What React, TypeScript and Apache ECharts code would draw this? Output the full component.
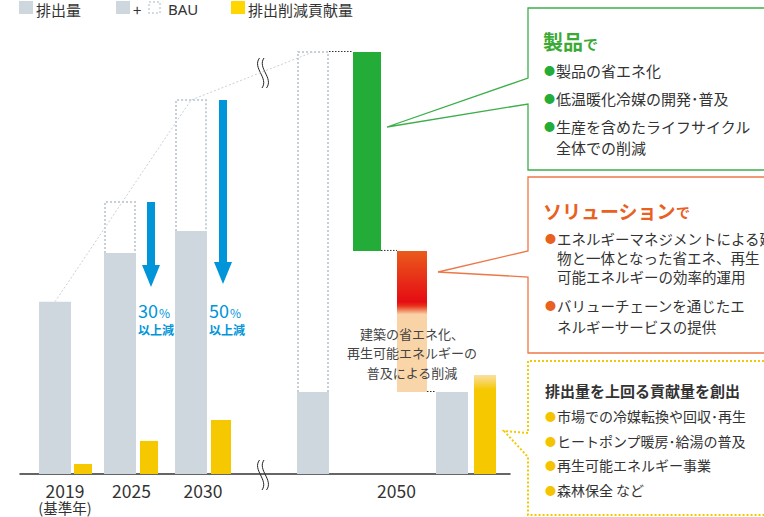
import React, { useEffect, useRef } from 'react';
import * as echarts from 'echarts';

// ---------- data (2019 emissions = 100) ----------
const years = ['2019', '2025', '2030', '2050'];
const baseYearNote = '(基準年)';
const emissions = [100, 128.3, 141.1, 47.6];      // 排出量
const bau = [100, 157.9, 217.1, 245];            // BAU
const contribution = [5.8, 19.2, 31.4, 57.5];    // 排出削減貢献量
const productReduction = [245, 129.5];          // 製品で (from, to)
const solutionReduction = [129.5, 47.6];         // ソリューションで (from, to)
const arrowTips = [108.6, 110.3];                // 2025, 2030 arrows end
const reductionRates = ['30', '50'];

const legendItems = ['排出量', 'BAU', '排出削減貢献量'];
const productTexts = ['製品の省エネ化', '低温暖化冷媒の開発･普及', '生産を含めたライフサイクル', '全体での削減'];
const solutionTexts = ['エネルギーマネジメントによる建', '物と一体となった省エネ、再生', '可能エネルギーの効率的運用', 'バリューチェーンを通じたエ', 'ネルギーサービスの提供'];
const surplusTexts = ['市場での冷媒転換や回収･再生', 'ヒートポンプ暖房･給湯の普及', '再生可能エネルギー事業', '森林保全 など'];
const buildingTexts = ['建築の省エネ化、', '再生可能エネルギーの', '普及による削減'];

// ---------- layout (x axis units) ----------
const X_MAX = 490;
const Y_MAX = 245;
const GRAY_W = 32;
const grayX = [35, 100, 171, 293];
const gray2050RightX = 432;
const yellowX = [63, 129, 201, 465];
const yellowW = [18, 18, 20, 22];
const greenX = 347, GREEN_W = 28;
const orangeX = 392, ORANGE_W = 30;
const arrowX = [131, 203];
const labelX = [45, 111.5, 183, 376.5];

const FONT = '"Noto Sans CJK JP", "Noto Sans", sans-serif';
const GRAY = '#CDD7DD';
const BAU_C = '#C6D0D8';
const YELLOW = '#F5C800';
const GREEN = '#23AC38';
const BLUE = '#0095D9';
const TEXT = '#333333';

function rectItem(api: any, fill: any) {
  const x = api.value(0), y0 = api.value(1), y1 = api.value(2), w = api.value(3);
  const p0 = api.coord([x, y0]);
  const p1 = api.coord([x, y1]);
  const pw = api.size([w, 0])[0];
  return {
    type: 'rect',
    shape: { x: p0[0] - pw / 2, y: Math.min(p0[1], p1[1]), width: pw, height: Math.abs(p1[1] - p0[1]) },
    style: { fill },
  };
}

function buildOption() {
  const grayData = grayX.map((x, i) => [x, 0, emissions[i], GRAY_W]);
  grayData.push([gray2050RightX, 0, emissions[3], GRAY_W]);
  const yellowData = yellowX.map((x, i) => [x, 0, contribution[i], yellowW[i]]);
  const bauData = [1, 2, 3].map((i) => [grayX[i], emissions[i], bau[i], GRAY_W]);
  const trend = [[grayX[0], emissions[0]], [grayX[2], bau[2]], [grayX[3], bau[3]]];
  const connectors = [
    [grayX[3] + GRAY_W / 2, greenX - GREEN_W / 2, productReduction[0]],
    [greenX + GREEN_W / 2, orangeX - ORANGE_W / 2, productReduction[1]],
    [orangeX + ORANGE_W / 2, gray2050RightX - GRAY_W / 2, solutionReduction[1]],
  ];
  const arrows = arrowX.map((x, i) => [x, bau[i + 1], arrowTips[i]]);

  const orangeGrad = new echarts.graphic.LinearGradient(0, 0, 0, 1, [
    { offset: 0, color: '#EA5B1B' },
    { offset: 0.36, color: '#E50C14' },
    { offset: 0.39, color: '#E8331A' },
    { offset: 0.45, color: '#F9D3A6' },
    { offset: 1, color: '#F9D6A9' },
  ]);
  const yellowGrad = new echarts.graphic.LinearGradient(0, 0, 0, 1, [
    { offset: 0, color: '#FAE0A8' },
    { offset: 0.15, color: YELLOW },
    { offset: 1, color: YELLOW },
  ]);

  const txt = (text: string, x: number, y: number, extra: any = {}) => ({
    type: 'text', z: 60,
    style: { text, x, y, fontSize: 15, fontFamily: FONT, fill: TEXT, verticalAlign: 'middle', ...extra },
  });
  const bullet = (text: string, x: number, y: number, color: string, size = 15) => ({
    type: 'text', z: 60,
    style: {
      text: `{d|●}{t|${text}}`, x, y, verticalAlign: 'middle', fontFamily: FONT,
      rich: {
        d: { fontSize: 11, fill: color, fontFamily: FONT, padding: [0, 1, 0, 0] },
        t: { fontSize: size, fill: TEXT, fontFamily: FONT },
      },
    },
  });
  const breakMark = (cx: number, cy: number) => ({
    type: 'group', z: 70,
    children: [
      { type: 'rect', shape: { x: cx - 2.5, y: cy - 4, width: 5, height: 8 }, style: { fill: '#fff' } },
      { type: 'bezierCurve', shape: { x1: cx - 3.5, y1: cy - 15, cpx1: cx - 11, cpy1: cy - 5, cpx2: cx + 6, cpy2: cy + 5, x2: cx - 1, y2: cy + 15 }, style: { stroke: '#222', lineWidth: 1, fill: null } },
      { type: 'bezierCurve', shape: { x1: cx + 1, y1: cy - 15, cpx1: cx - 6, cpy1: cy - 5, cpx2: cx + 11, cpy2: cy + 5, x2: cx + 3.5, y2: cy + 15 }, style: { stroke: '#222', lineWidth: 1, fill: null } },
    ],
  });
  const box = (pts: number[][], stroke: string, dash?: number[]) => ({
    type: 'polyline', z: 40,
    shape: { points: pts },
    style: { stroke, lineWidth: dash ? 2 : 1.3, fill: null, lineDash: dash || null },
  });

  const graphic: any[] = [
    // legend
    { type: 'rect', z: 60, shape: { x: 19, y: 1, width: 14, height: 13 }, style: { fill: GRAY } },
    txt(legendItems[0], 36, 9),
    { type: 'rect', z: 60, shape: { x: 116, y: 1, width: 14, height: 13 }, style: { fill: GRAY } },
    txt('+', 133, 9),
    { type: 'rect', z: 60, shape: { x: 149, y: 2, width: 11, height: 11 }, style: { fill: null, stroke: BAU_C, lineWidth: 1.5, lineDash: [2, 2] } },
    txt(legendItems[1], 168, 9, { fontFamily: '"Noto Sans", sans-serif' }),
    { type: 'rect', z: 60, shape: { x: 231, y: 1, width: 14, height: 13 }, style: { fill: '#FFD600' } },
    txt(legendItems[2], 248, 9),
    // reduction labels
    ...reductionRates.flatMap((r, i) => {
      const x = [138, 209][i];
      return [
        {
          type: 'text', z: 60,
          style: {
            text: `{n|${r}}{p|%}`, x, y: 310, verticalAlign: 'middle',
            rich: { n: { fontSize: 18, fill: BLUE, fontFamily: FONT }, p: { fontSize: 12, fill: BLUE, fontFamily: FONT, padding: [4, 0, 0, 1] } },
          },
        },
        txt('以上減', x, 329, { fontSize: 12, fill: BLUE, fontWeight: 'bold' }),
      ];
    }),
    // building text
    ...buildingTexts.map((t, i) => txt(t, 412, 333 + i * 19.5, { fontSize: 13, fill: '#444', textAlign: 'center' })),
    // break marks
    breakMark(263, 73),
    breakMark(263, 475),
    // callout boxes
    box([[780, 8], [528, 8], [528, 78], [387, 127], [528, 104], [528, 170], [780, 170]], '#3DAE4A'),
    box([[780, 177], [528, 177], [528, 251], [438, 272], [528, 277], [528, 353], [780, 353]], '#EE7747'),
    box([[780, 361], [528, 361], [528, 433], [504, 431], [528, 457], [528, 515], [780, 515]], YELLOW, [2, 2]),
    // green box texts
    {
      type: 'text', z: 60,
      style: {
        text: '{a|製品}{b|で}', x: 543, y: 41, verticalAlign: 'middle',
        rich: { a: { fontSize: 20, fontWeight: 'bold', fill: '#3AAA35', fontFamily: FONT }, b: { fontSize: 15, fontWeight: 'bold', fill: '#3AAA35', fontFamily: FONT, padding: [4, 0, 0, 0] } },
      },
    },
    bullet(productTexts[0], 544, 70, GREEN),
    bullet(productTexts[1], 544, 98, GREEN),
    bullet(productTexts[2], 544, 126, GREEN),
    txt(productTexts[3], 556, 147),
    // orange box texts
    {
      type: 'text', z: 60,
      style: {
        text: '{a|ソリューション}{b|で}', x: 543, y: 210, verticalAlign: 'middle',
        rich: { a: { fontSize: 19, fontWeight: 'bold', fill: '#E9601F', fontFamily: FONT }, b: { fontSize: 14, fontWeight: 'bold', fill: '#E9601F', fontFamily: FONT, padding: [4, 0, 0, 0] } },
      },
    },
    bullet(solutionTexts[0], 545, 238, '#E9601F', 14.5),
    txt(solutionTexts[1], 557, 257, { fontSize: 14.5 }),
    txt(solutionTexts[2], 557, 276, { fontSize: 14.5 }),
    bullet(solutionTexts[3], 545, 305, '#E9601F', 14.5),
    txt(solutionTexts[4], 557, 326, { fontSize: 14.5 }),
    // yellow box texts
    txt('排出量を上回る貢献量を創出', 545, 390, { fontSize: 15, fontWeight: 'bold' }),
    ...surplusTexts.map((t, i) => bullet(t, 545, 416 + i * 24.7, '#F5C400', 14)),
  ];

  return {
    animation: false,
    backgroundColor: '#ffffff',
    textStyle: { fontFamily: FONT },
    grid: { left: 20, right: 254, top: 52, bottom: 43, containLabel: false, outerBoundsMode: 'none' },
    xAxis: {
      type: 'value', min: 0, max: X_MAX,
      splitLine: { show: false },
      axisTick: { show: false },
      axisLine: { show: true, onZero: false, lineStyle: { color: '#333', width: 1.5 } },
      axisLabel: {
        customValues: labelX,
        formatter: (v: number) => {
          const i = labelX.indexOf(v);
          if (i < 0) return '';
          return i === 0 ? `{y|${years[i]}}\n{s|${baseYearNote}}` : `{y|${years[i]}}`;
        },
        margin: 7,
        rich: {
          y: { fontSize: 17.5, lineHeight: 18, color: TEXT, fontFamily: FONT },
          s: { fontSize: 14.5, lineHeight: 17, color: TEXT, fontFamily: FONT },
        },
      },
    },
    yAxis: { type: 'value', min: 0, max: Y_MAX, show: false, splitLine: { show: false } },
    series: [
      {
        type: 'line', name: 'trend', z: 1, data: trend, symbol: 'none',
        lineStyle: { color: BAU_C, width: 1, type: [2, 2] }, silent: true,
      },
      {
        type: 'custom', name: legendItems[0], z: 3, data: grayData,
        encode: { x: 0, y: [1, 2] },
        renderItem: (p: any, api: any) => rectItem(api, GRAY),
      },
      {
        type: 'custom', name: legendItems[1], z: 4, data: bauData,
        encode: { x: 0, y: [1, 2] },
        renderItem: (p: any, api: any) => {
          const x = api.value(0), y0 = api.value(1), y1 = api.value(2), w = api.value(3);
          const a = api.coord([x, y0]);
          const b = api.coord([x, y1]);
          const hw = api.size([w, 0])[0] / 2 - 1;
          return {
            type: 'polyline',
            shape: { points: [[a[0] - hw, a[1]], [a[0] - hw, b[1]], [a[0] + hw, b[1]], [a[0] + hw, a[1]]] },
            style: { stroke: BAU_C, lineWidth: 2, lineDash: [2, 2], fill: null },
          };
        },
      },
      {
        type: 'custom', name: legendItems[2], z: 3, data: yellowData,
        encode: { x: 0, y: [1, 2] },
        renderItem: (p: any, api: any) => rectItem(api, p.dataIndex === 3 ? yellowGrad : YELLOW),
      },
      {
        type: 'custom', name: 'product', z: 3,
        data: [[greenX, productReduction[1], productReduction[0], GREEN_W]],
        encode: { x: 0, y: [1, 2] },
        renderItem: (p: any, api: any) => rectItem(api, GREEN),
      },
      {
        type: 'custom', name: 'solution', z: 3,
        data: [[orangeX, solutionReduction[1], solutionReduction[0], ORANGE_W]],
        encode: { x: 0, y: [1, 2] },
        renderItem: (p: any, api: any) => rectItem(api, orangeGrad),
      },
      {
        type: 'custom', name: 'connectors', z: 5, data: connectors,
        encode: { x: [0, 1], y: 2 },
        renderItem: (p: any, api: any) => {
          const a = api.coord([api.value(0), api.value(2)]);
          const b = api.coord([api.value(1), api.value(2)]);
          return {
            type: 'line',
            shape: { x1: a[0], y1: a[1] - 0.5, x2: b[0], y2: b[1] - 0.5 },
            style: { stroke: '#333', lineWidth: 1, lineDash: [1.5, 1.5] },
          };
        },
      },
      {
        type: 'custom', name: 'arrows', z: 6, data: arrows,
        encode: { x: 0, y: [1, 2] },
        renderItem: (p: any, api: any) => {
          const x = api.value(0);
          const top = api.coord([x, api.value(1)]);
          const tip = api.coord([x, api.value(2)]);
          const cx = top[0];
          const sw = 4, hw = 9, hl = 22;
          return {
            type: 'polygon',
            shape: {
              points: [
                [cx - sw, top[1]], [cx + sw, top[1]], [cx + sw, tip[1] - hl], [cx + hw, tip[1] - hl],
                [cx, tip[1]], [cx - hw, tip[1] - hl], [cx - sw, tip[1] - hl],
              ],
            },
            style: { fill: BLUE },
          };
        },
      },
    ],
    graphic,
  };
}

export default function App() {
  const ref = useRef<HTMLDivElement>(null);
  useEffect(() => {
    const chart = echarts.init(ref.current!, null, { renderer: 'svg' });
    chart.setOption(buildOption() as any);
    return () => chart.dispose();
  }, []);
  return <div ref={ref} style={{ position: 'fixed', left: 0, top: 0, width: 764, height: 517 }} />;
}
